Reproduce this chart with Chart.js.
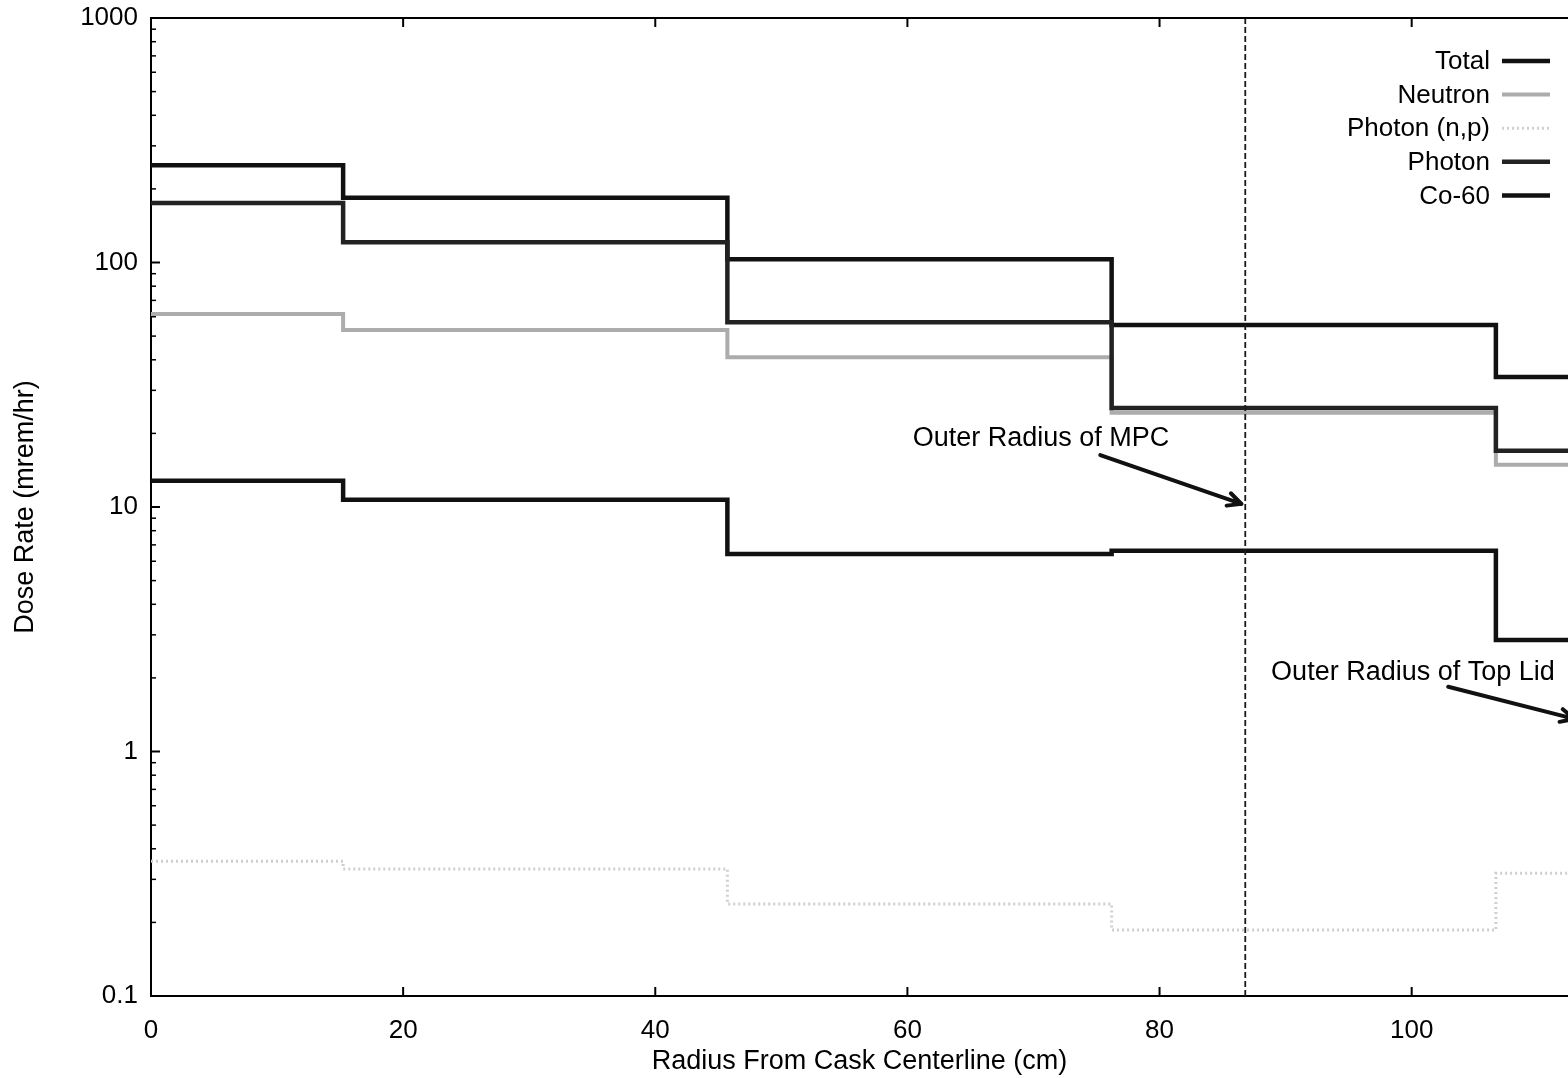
<!DOCTYPE html>
<html>
<head>
<meta charset="utf-8">
<script src="https://cdn.jsdelivr.net/npm/chart.js@4/dist/chart.umd.min.js"></script>
<style>
  html, body { margin: 0; padding: 0; background: #fff; overflow: hidden; }
  canvas { display: block; }
</style>
</head>
<body>
<canvas id="c" width="1568" height="1078"></canvas>
<script>
// ---- Data ----
const binEdges = [0, 15.24, 45.72, 76.2, 106.68, 137.16];   // cm
const totalDose    = [250, 184, 103, 55.5, 34.0];
const neutronDose  = [61.5, 53.0, 41.0, 24.3, 14.9];
const photonNPDose = [0.356, 0.331, 0.238, 0.186, 0.318];
const photonDose   = [175, 121, 57.0, 25.4, 17.0];
const co60Dose     = [12.8, 10.7, 6.42, 6.62, 2.86];
const mpcRadius = 86.8;                 // vertical dashed line
const xTicks = [0, 20, 40, 60, 80, 100];
const xTickLabels = ['0', '20', '40', '60', '80', '100'];
const yMajor = [0.1, 1, 10, 100, 1000];
const yTickLabels = ['0.1', '1', '10', '100', '1000'];
const yMinorMult = [2, 3, 4, 5, 6, 7, 8, 9];
const seriesLabels = ['Total', 'Neutron', 'Photon (n,p)', 'Photon', 'Co-60'];
const noteTexts = ['Outer Radius of MPC', 'Outer Radius of Top Lid'];
const noteTextPos = [[70.6, 19.1], [100.1, 2.11]];
const noteArrowFrom = [[75.3, 16.3], [102.9, 1.84]];
const noteArrowTo = [[86.5, 10.3], [112.9, 1.36]];

function steps(vals) {
  return binEdges.map((x, i) => ({ x: x, y: vals[Math.min(i, vals.length - 1)] }));
}

const FONT = "'Liberation Sans', Arial, Helvetica, sans-serif";
Chart.defaults.font.family = FONT;
Chart.defaults.color = '#000';

const styles = [
  { color: '#111111', width: 4.5, dash: [] },
  { color: '#acacac', width: 4, dash: [] },
  { color: '#cfcfcf', width: 3, dash: [2, 3] },
  { color: '#222222', width: 4.5, dash: [] },
  { color: '#111111', width: 4.5, dash: [] }
];
const seriesData = [totalDose, neutronDose, photonNPDose, photonDose, co60Dose];

const datasets = seriesData.map((vals, i) => ({
  label: seriesLabels[i],
  data: steps(vals),
  stepped: 'before',
  borderColor: styles[i].color,
  borderWidth: styles[i].width,
  borderDash: styles[i].dash,
  pointRadius: 0,
  fill: false,
  order: 5 - i
}));
datasets.push({
  label: '',
  data: [{ x: mpcRadius, y: 0.1 }, { x: mpcRadius, y: 1000 }],
  borderColor: '#1a1a1a',
  borderWidth: 1.8,
  borderDash: [6, 3],
  pointRadius: 0,
  fill: false,
  order: 0
});

const decorPlugin = {
  id: 'decor',
  afterDraw(chart) {
    const ctx = chart.ctx;
    const a = chart.chartArea;
    const xs = chart.scales.x, ys = chart.scales.y;
    ctx.save();
    ctx.strokeStyle = '#000';
    // top frame
    ctx.lineWidth = 2;
    ctx.beginPath();
    ctx.moveTo(a.left, a.top); ctx.lineTo(a.right, a.top);
    ctx.stroke();
    // inner ticks on y axis
    ys.ticks.forEach(t => {
      const py = ys.getPixelForValue(t.value);
      const major = yMajor.some(m => Math.abs(m - t.value) / m < 1e-6);
      ctx.lineWidth = major ? 2 : 1.5;
      ctx.beginPath();
      ctx.moveTo(a.left, py); ctx.lineTo(a.left + (major ? 9 : 5), py);
      ctx.stroke();
    });
    // inner ticks on x axis (bottom and top)
    xTicks.forEach(v => {
      const px = xs.getPixelForValue(v);
      ctx.lineWidth = 2;
      ctx.beginPath();
      ctx.moveTo(px, a.bottom); ctx.lineTo(px, a.bottom - 9);
      ctx.moveTo(px, a.top); ctx.lineTo(px, a.top + 9);
      ctx.stroke();
    });

    // legend (text right aligned, sample on the right)
    ctx.font = '26px ' + FONT;
    ctx.textAlign = 'right';
    ctx.textBaseline = 'middle';
    ctx.fillStyle = '#000';
    seriesLabels.forEach((lab, i) => {
      const y = a.top + 43 + i * 33.6;
      ctx.fillText(lab, a.right - 78, y + 1);
      ctx.strokeStyle = styles[i].color;
      ctx.lineWidth = styles[i].width;
      ctx.setLineDash(styles[i].dash);
      ctx.beginPath();
      ctx.moveTo(a.right - 66, y); ctx.lineTo(a.right - 18, y);
      ctx.stroke();
      ctx.setLineDash([]);
    });

    // annotations
    ctx.font = '27px ' + FONT;
    ctx.textAlign = 'center';
    ctx.fillStyle = '#000';
    noteTexts.forEach((txt, i) => {
      const tx = xs.getPixelForValue(noteTextPos[i][0]);
      const ty = ys.getPixelForValue(noteTextPos[i][1]);
      ctx.fillText(txt, tx, ty);
      const x0 = xs.getPixelForValue(noteArrowFrom[i][0]);
      const y0 = ys.getPixelForValue(noteArrowFrom[i][1]);
      const x1 = xs.getPixelForValue(noteArrowTo[i][0]);
      const y1 = ys.getPixelForValue(noteArrowTo[i][1]);
      ctx.strokeStyle = '#111';
      ctx.lineWidth = 4;
      ctx.lineCap = 'round';
      ctx.beginPath();
      ctx.moveTo(x0, y0); ctx.lineTo(x1, y1);
      const ang = Math.atan2(y1 - y0, x1 - x0);
      const hl = 15, ha = 0.45;
      ctx.moveTo(x1, y1);
      ctx.lineTo(x1 - hl * Math.cos(ang - ha), y1 - hl * Math.sin(ang - ha));
      ctx.moveTo(x1, y1);
      ctx.lineTo(x1 - hl * Math.cos(ang + ha), y1 - hl * Math.sin(ang + ha));
      ctx.stroke();
    });
    ctx.restore();
  }
};

new Chart(document.getElementById('c'), {
  type: 'line',
  data: { datasets: datasets },
  options: {
    responsive: false,
    animation: false,
    layout: { padding: { top: 18, right: 0, left: 0, bottom: 0 } },
    plugins: { legend: { display: false }, tooltip: { enabled: false } },
    scales: {
      x: {
        type: 'linear',
        position: 'bottom',
        min: 0,
        max: 112.4,
        afterBuildTicks: s => { s.ticks = xTicks.map(v => ({ value: v })); },
        afterFit: s => { s.height = 82; s.paddingLeft = 0; s.paddingRight = 0; },
        grid: { display: false, drawTicks: false },
        border: { display: true, color: '#000', width: 2 },
        ticks: {
          autoSkip: false,
          maxRotation: 0,
          padding: 19,
          font: { size: 26 },
          color: '#000',
          callback: v => { const i = xTicks.indexOf(v); return i >= 0 ? xTickLabels[i] : ''; }
        },
        title: {
          display: true,
          text: 'Radius From Cask Centerline (cm)',
          font: { size: 27 },
          color: '#000',
          padding: { top: 0, bottom: 0 }
        }
      },
      y: {
        type: 'logarithmic',
        position: 'left',
        min: 0.1,
        max: 1000,
        afterBuildTicks: s => {
          const t = [];
          yMajor.forEach((m, i) => {
            t.push({ value: m });
            if (i < yMajor.length - 1) yMinorMult.forEach(k => t.push({ value: m * k }));
          });
          s.ticks = t;
        },
        afterFit: s => { s.width = 151; s.paddingTop = 0; s.paddingBottom = 0; },
        grid: { display: false, drawTicks: false },
        border: { display: true, color: '#000', width: 2 },
        ticks: {
          autoSkip: false,
          padding: 13,
          font: { size: 26 },
          color: '#000',
          callback: v => {
            const i = yMajor.findIndex(m => Math.abs(m - v) / m < 1e-6);
            return i >= 0 ? yTickLabels[i] : '';
          }
        },
        title: {
          display: true,
          text: 'Dose Rate (mrem/hr)',
          font: { size: 27 },
          color: '#000',
          padding: { top: 9, bottom: 0 }
        }
      }
    }
  },
  plugins: [decorPlugin]
});
</script>
</body>
</html>
